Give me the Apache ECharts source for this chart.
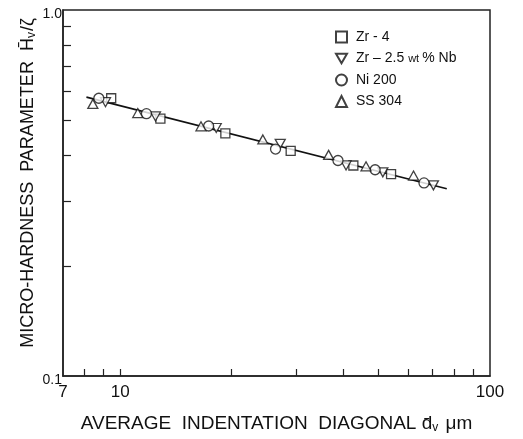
<!DOCTYPE html>
<html>
<head>
<meta charset="utf-8">
<script src="https://cdn.jsdelivr.net/npm/echarts@6/dist/echarts.min.js"></script>
<style>html,body{margin:0;padding:0;background:#fff;}#c{width:523px;height:439px;}</style>
</head>
<body>
<div id="c"></div>
<script>
// ---- data ----
const seriesNames = ['Zr - 4', 'Zr – 2.5 wt % Nb', 'Ni 200', 'SS 304'];
const zr4X = [9.45, 12.84, 19.24, 28.9, 42.7, 54.0];
const zr4Y = [0.574, 0.505, 0.460, 0.412, 0.376, 0.356];
const zrNbX = [9.12, 12.45, 18.18, 27.08, 40.8, 51.3, 70.3];
const zrNbY = [0.560, 0.512, 0.476, 0.431, 0.376, 0.360, 0.332];
const ni200X = [8.75, 11.77, 17.34, 26.3, 38.8, 48.9, 66.3];
const ni200Y = [0.574, 0.521, 0.482, 0.417, 0.388, 0.366, 0.337];
const ss304X = [8.43, 11.15, 16.53, 24.3, 36.6, 46.2, 62.1];
const ss304Y = [0.554, 0.523, 0.481, 0.443, 0.402, 0.374, 0.353];
const fitX = [8.10, 76.4];
const fitY = [0.578, 0.325];
const xLabelVals = [7, 10, 100];
const yLabelVals = [0.1, 1.0];
const xTickVals = [8, 9, 10, 20, 30, 40, 50, 60, 70, 80, 90];
const yTickVals = [0.2, 0.3, 0.4, 0.5, 0.6, 0.7, 0.8, 0.9];

const zip = (xs, ys) => xs.map((x, i) => [x, ys[i]]);
const FONT = 'Liberation Sans';
const downTri = 'path://M0,0 L10,0 L5,8.66 Z';

const chart = echarts.init(document.getElementById('c'), null, {renderer: 'canvas'});
const pt = {color: '#fff', borderColor: '#111', borderWidth: 1.3};

chart.setOption({
  animation: false,
  backgroundColor: '#fff',
  grid: {left: 63, right: 33, top: 10, bottom: 59, show: true, borderColor: '#222', borderWidth: 1.5, backgroundColor: 'transparent'},
  legend: {
    orient: 'vertical', left: 330, top: 25, itemWidth: 11, itemHeight: 11, itemGap: 7.5,
    textStyle: {fontFamily: FONT, fontSize: 14, color: '#111', padding: [0, 0, 0, 4],
      rich: {s: {fontFamily: FONT, fontSize: 11, color: '#111'}, n: {fontFamily: FONT, fontSize: 14, color: '#111'}}},
    formatter: function (n) {
      if (n.indexOf('wt') >= 0) return '{n|Zr – 2.5 }{s|wt }{n|% Nb}';
      return n;
    },
    data: seriesNames
  },
  xAxis: {
    type: 'log', logBase: 10, min: 7, max: 100,
    axisLine: {show: true, lineStyle: {color: '#222', width: 1.5}},
    axisTick: {show: true, inside: true, length: 7, customValues: xTickVals, lineStyle: {color: '#222', width: 1.2}},
    axisLabel: {show: true, customValues: xLabelVals, fontFamily: FONT, fontSize: 17, color: '#111', margin: 8},
    splitLine: {show: false}, minorTick: {show: false},
    name: '{t|AVERAGE  INDENTATION  DIAGONAL }{t|d\u0304}{sub|v}{t| \u03bcm}',
    nameLocation: 'middle', nameGap: 38,
    nameTextStyle: {rich: {
      t: {fontFamily: FONT, fontSize: 19, color: '#111'},
      sub: {fontFamily: FONT, fontSize: 12, color: '#111', padding: [8, 2, 0, 0]}
    }}
  },
  yAxis: {
    type: 'log', logBase: 10, min: 0.1, max: 1.0,
    axisLine: {show: true, lineStyle: {color: '#222', width: 1.5}},
    axisTick: {show: true, inside: true, length: 8, customValues: yTickVals, lineStyle: {color: '#222', width: 1.2}},
    axisLabel: {show: true, customValues: yLabelVals, fontFamily: FONT, fontSize: 14, color: '#111', margin: 1,
      verticalAlign: 'top', lineHeight: 8,
      formatter: v => (v >= 0.99 ? '1.0' : '0.1')},
    splitLine: {show: false}, minorTick: {show: false}
  },
  graphic: [{
    type: 'text', x: 28, y: 183, rotation: Math.PI / 2,
    style: {
      text: '{t|MICRO-HARDNESS  PARAMETER  H\u0304}{sub|v}{t|/\u03b6}',
      align: 'center', verticalAlign: 'middle',
      rich: {
        t: {fontFamily: FONT, fontSize: 18, fill: '#111'},
        sub: {fontFamily: FONT, fontSize: 12, fill: '#111', padding: [8, 1, 0, 0]}
      }
    }
  }],
  series: [
    {type: 'line', data: zip(fitX, fitY), symbol: 'none', lineStyle: {color: '#111', width: 1.6}, z: 1, silent: true},
    {name: seriesNames[0], type: 'scatter', symbol: 'rect', symbolSize: 9, data: zip(zr4X, zr4Y), itemStyle: pt, z: 3},
    {name: seriesNames[1], type: 'scatter', symbol: downTri, symbolSize: [10, 9], data: zip(zrNbX, zrNbY), itemStyle: pt, z: 3},
    {name: seriesNames[2], type: 'scatter', symbol: 'circle', symbolSize: 10, data: zip(ni200X, ni200Y), itemStyle: pt, z: 3},
    {name: seriesNames[3], type: 'scatter', symbol: 'triangle', symbolSize: [10, 9], data: zip(ss304X, ss304Y), itemStyle: pt, z: 3}
  ]
});
</script>
</body>
</html>
